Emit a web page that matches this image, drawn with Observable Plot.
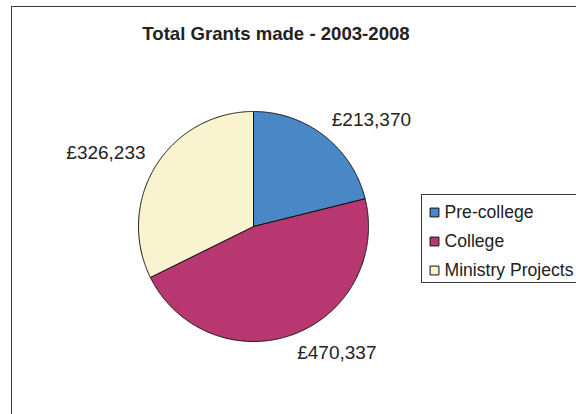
<!DOCTYPE html>
<html>
<head>
<meta charset="utf-8">
<script src="https://cdn.jsdelivr.net/npm/d3@7"></script>
<script src="https://cdn.jsdelivr.net/npm/@observablehq/plot@0.6"></script>
<style>
  html, body { margin: 0; padding: 0; background: #fff; }
  #wrap { position: relative; width: 576px; height: 414px; overflow: hidden; background: #fff;
          font-family: "Liberation Sans", Arial, sans-serif; }
  #frame { position: absolute; left: 11px; top: 6px; width: 800px; height: 800px;
           border: 1.6px solid #3a3a3a; box-sizing: border-box; }
  #title { position: absolute; left: 0; top: 25px; width: 552px; text-align: center;
           font-weight: 700; font-size: 18.6px; line-height: 18.6px; color: #222; }
  #pie { position: absolute; left: 0; top: 0; }
  #legend { position: absolute; left: 421px; top: 194px; width: 200px; height: 89px;
            border: 1.5px solid #3a3a3a; box-sizing: border-box; background: #fff; }
  #legend svg { position: absolute; left: 0; top: 0; }
</style>
</head>
<body>
<div id="wrap">
  <div id="frame"></div>
  <div id="pie"></div>
  <div id="title">Total Grants made - 2003-2008</div>
  <div id="legend"></div>
</div>
<script>
const categories = ["Pre-college", "College", "Ministry Projects"];
const values = [213370, 470337, 326233];
const valueLabels = ["£213,370", "£470,337", "£326,233"];
const colors = ["#4a87c6", "#b83771", "#f9f3cf"];

const total = d3.sum(values);
let acc = 0;
const slices = categories.map((name, i) => {
  const a0 = acc / total * 2 * Math.PI;
  acc += values[i];
  const a1 = acc / total * 2 * Math.PI;
  const pts = [{x: 0, y: 0}];
  const steps = Math.max(2, Math.ceil((a1 - a0) / (Math.PI / 360)));
  for (let k = 0; k <= steps; k++) {
    const a = a0 + (a1 - a0) * k / steps;
    pts.push({x: Math.sin(a), y: Math.cos(a)});
  }
  pts.push({x: 0, y: 0});
  const mid = (a0 + a1) / 2;
  const r = 1.105;
  return {name, color: colors[i], pts, label: valueLabels[i],
          lx: r * Math.sin(mid), ly: r * Math.cos(mid),
          right: Math.sin(mid) >= 0, upper: Math.cos(mid) >= 0};
});

const labelMarks = [];
for (const right of [true, false]) {
  for (const upper of [true, false]) {
    const sub = slices.filter(s => s.right === right && s.upper === upper);
    if (!sub.length) continue;
    labelMarks.push(Plot.text(sub, {
      x: "lx", y: "ly", text: "label",
      textAnchor: right ? "start" : "end",
      lineAnchor: upper ? "bottom" : "top",
      fontSize: 19, fill: "#222"
    }));
  }
}

const pie = Plot.plot({
  width: 576, height: 414, margin: 0,
  style: {fontFamily: "Liberation Sans, Arial, sans-serif", background: "transparent", overflow: "visible"},
  x: {domain: [-1, 1], range: [138, 368], axis: null},
  y: {domain: [-1, 1], range: [341, 111], axis: null},
  marks: [
    ...slices.map(s => Plot.line(s.pts, {x: "x", y: "y", fill: s.color, stroke: "#111", strokeWidth: 1, curve: "linear"})),
    ...labelMarks
  ]
});
document.getElementById("pie").appendChild(pie);

const legend = Plot.plot({
  width: 197, height: 86, margin: 0,
  style: {fontFamily: "Liberation Sans, Arial, sans-serif", background: "transparent", overflow: "visible"},
  y: {type: "point", domain: categories, range: [16.5, 74.5], padding: 0, axis: null},
  marks: [
    Plot.dot(categories, {y: d => d, frameAnchor: "left", dx: 12, symbol: "square", r: 5,
      fill: (d, i) => colors[i], stroke: "#111", strokeWidth: 1}),
    Plot.text(categories, {y: d => d, frameAnchor: "left", dx: 22, text: d => d,
      textAnchor: "start", fontSize: 17.6, fill: "#222"})
  ]
});
document.getElementById("legend").appendChild(legend);
</script>
</body>
</html>
